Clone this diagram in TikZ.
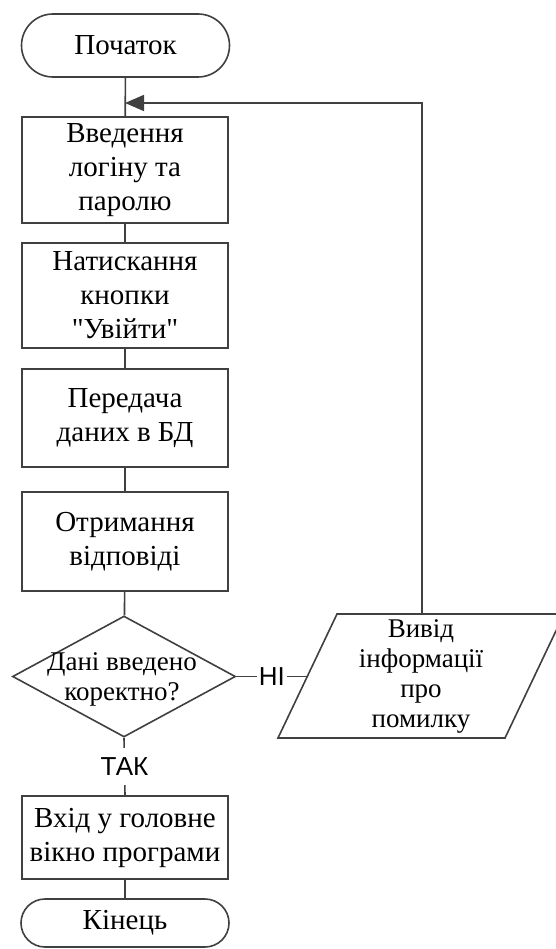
\documentclass[tikz,border=0pt]{standalone}
\usepackage{fontspec}
\newfontfamily\serif{Liberation Serif}
\newfontfamily\labelfont{Liberation Sans}
\usetikzlibrary{shapes.geometric,arrows.meta}
\begin{document}
\begin{tikzpicture}[x=1pt,y=-1pt,
  line/.style={draw=black!75,line width=1.6pt},
  txt/.style={align=center,text=black,font=\serif\fontsize{29}{34}\selectfont},
  smalltxt/.style={align=center,text=black,font=\serif\fontsize{27}{30}\selectfont},
  proc/.style={line,txt,rectangle,minimum width=206pt,inner sep=0pt},
  term/.style={line,txt,rectangle,minimum width=208pt,inner sep=0pt},
  decis/.style={line,diamond,minimum width=223pt,minimum height=121pt,inner sep=0pt},
  lbl/.style={fill=white,text=black,font=\labelfont\fontsize{26}{28}\selectfont,inner xsep=2pt,inner ysep=0pt}
]
\useasboundingbox[fill=white] (0,0) rectangle (555,949);

\node[term,minimum height=63pt,rounded corners=31.5pt] (start) at (125.5,45.5) {Початок};
\node[proc,minimum height=106pt] (b1) at (125,170) {Введення\\логіну та\\паролю};
\node[proc,minimum height=105pt] (b2) at (125,295.5) {Натискання\\кнопки\\"Увійти"};
\node[proc,minimum height=98pt] (b3) at (125,418) {Передача\\даних в БД};
\node[proc,minimum height=99pt] (b4) at (125,541.5) {Отримання\\відповіді};
\node[decis] (dec) at (124,676.5) {};
\node[smalltxt] (dect) at (122,679) {Дані введено\\коректно?};
\node[proc,minimum height=83pt] (b5) at (125,837.5) {Вхід у головне\\вікно програми};
\node[term,minimum height=48pt,rounded corners=24pt] (end) at (125,923) {Кінець};

% parallelogram (output)
\draw[line,fill=white] (278,738) -- (505,738) -- (564,614) -- (337,614) -- cycle;
\node[smalltxt] (para) at (421,676) {Вивід\\інформації\\про\\помилку};
\coordinate (paraL) at (307.5,676.5);
\coordinate (paraT) at (422,614);
\coordinate (turn) at (422,103);
\coordinate (merge) at (125,103);

% connectors
\draw[line] (start) -- (b1);
\draw[line] (b1) -- (b2);
\draw[line] (b2) -- (b3);
\draw[line] (b3) -- (b4);
\draw[line] (b4) -- (dec);
\draw[line] (dec.south) -- node[lbl,minimum height=37pt] {ТАК} (b5.north);
\draw[line] (b5) -- (end);
\draw[line] (dec.east) -- node[lbl] {НІ} (paraL);
\draw[line,-{Triangle[length=19pt,width=16pt]}] (paraT) -- (turn) -- (merge);
\end{tikzpicture}
\end{document}
